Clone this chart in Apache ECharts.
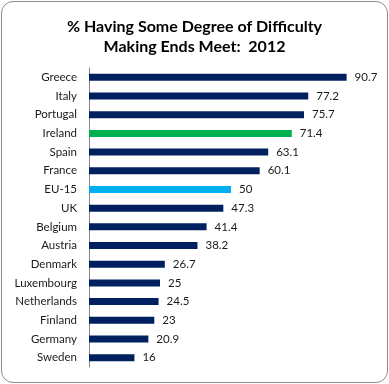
<!DOCTYPE html>
<html><head><meta charset="utf-8">
<script src="https://cdn.jsdelivr.net/npm/echarts@6/dist/echarts.min.js"></script>
<style>
html,body{margin:0;padding:0;background:#fff;}
#frame{position:absolute;left:1px;top:1px;width:385px;height:380px;border:1px solid #8c8c8c;border-radius:12px;}
#c{position:absolute;left:0;top:0;width:389px;height:384px;}
</style></head>
<body><div id="frame"></div><div id="c"></div>
<script>
const categories = ["Greece","Italy","Portugal","Ireland","Spain","France","EU-15","UK","Belgium","Austria","Denmark","Luxembourg","Netherlands","Finland","Germany","Sweden"];
const values = [90.7,77.2,75.7,71.4,63.1,60.1,50,47.3,41.4,38.2,26.7,25,24.5,23,20.9,16];
const highlight = {"Ireland":"#00B050","EU-15":"#00B0F0"};
const baseColor = "#002060";
const FONT = "Lato";
const chart = echarts.init(document.getElementById('c'));
chart.setOption({
  animation:false,
  title:{text:"% Having Some Degree of Difficulty\nMaking Ends Meet:  2012",left:'center',top:12,
    textStyle:{fontFamily:FONT,fontWeight:'bold',fontSize:16,color:'#000',lineHeight:20}},
  grid:{left:89,right:16,top:68,bottom:17,containLabel:false},
  xAxis:{type:'value',min:0,max:100,show:false},
  yAxis:{type:'category',data:categories,inverse:true,
    axisLine:{lineStyle:{color:'#868686'}},
    axisTick:{length:4,lineStyle:{color:'#868686'}},
    axisLabel:{margin:12,fontFamily:FONT,fontSize:11.5,color:'#1a1a1a'}},
  series:[{type:'bar',barWidth:7,
    data:categories.map((c,i)=>({value:values[i],itemStyle:{color:highlight[c]||baseColor}})),
    label:{show:true,position:'right',distance:8,fontFamily:FONT,fontSize:11.5,color:'#1a1a1a'}}]
});
</script></body></html>
